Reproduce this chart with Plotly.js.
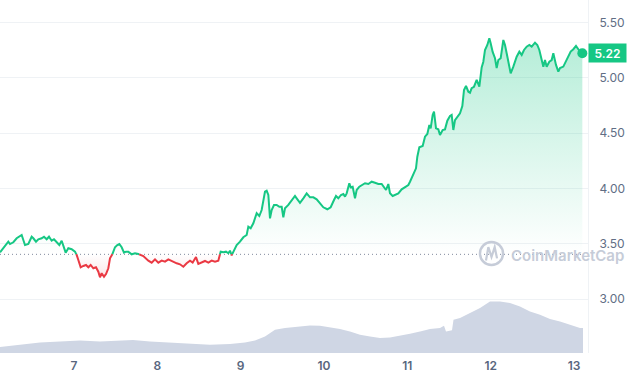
<!DOCTYPE html>
<html>
<head>
<meta charset="utf-8">
<script src="https://cdn.plot.ly/plotly-3.0.1.min.js"></script>
<style>html,body{margin:0;padding:0;background:#fff;}#chart{width:630px;height:380px;}</style>
</head>
<body>
<div id="chart"></div>
<script>
// ---- data (day of month, price USD) ----
const days = [6.112,6.152,6.192,6.212,6.232,6.272,6.312,6.352,6.372,6.392,6.412,6.452,6.492,6.512,6.544,6.572,6.612,6.640,6.672,6.700,6.732,6.760,6.792,6.824,6.852,6.872,6.900,6.932,6.972,7.012,7.032,7.052,7.080,7.112,7.144,7.172,7.200,7.232,7.264,7.292,7.312,7.332,7.360,7.384,7.412,7.432,7.452,7.472,7.492,7.520,7.544,7.572,7.600,7.624,7.652,7.692,7.732,7.772,7.832,7.892,7.932,7.972,8.012,8.052,8.092,8.132,8.184,8.232,8.272,8.312,8.352,8.392,8.424,8.464,8.492,8.532,8.572,8.612,8.652,8.692,8.732,8.760,8.792,8.824,8.852,8.872,8.892,8.920,8.952,8.992,9.032,9.072,9.092,9.120,9.152,9.192,9.224,9.252,9.272,9.292,9.312,9.332,9.352,9.372,9.400,9.432,9.464,9.492,9.512,9.532,9.572,9.612,9.652,9.672,9.712,9.752,9.792,9.832,9.872,9.912,9.952,9.992,10.040,10.080,10.120,10.144,10.172,10.204,10.232,10.252,10.272,10.304,10.320,10.344,10.372,10.392,10.424,10.452,10.492,10.532,10.572,10.612,10.652,10.692,10.720,10.744,10.772,10.792,10.824,10.852,10.892,10.932,10.972,11.012,11.032,11.072,11.104,11.120,11.144,11.184,11.212,11.240,11.264,11.280,11.304,11.320,11.344,11.372,11.392,11.424,11.452,11.480,11.512,11.532,11.552,11.572,11.600,11.632,11.660,11.680,11.704,11.732,11.752,11.772,11.800,11.832,11.864,11.892,11.912,11.932,11.960,11.984,12.000,12.024,12.052,12.072,12.092,12.120,12.152,12.172,12.192,12.212,12.240,12.272,12.312,12.344,12.372,12.400,12.432,12.464,12.492,12.532,12.560,12.584,12.612,12.632,12.652,12.672,12.704,12.732,12.752,12.784,12.812,12.832,12.872,12.904,12.932,12.960,12.992,13.024,13.052,13.080,13.100];
const prices = [3.422,3.459,3.497,3.518,3.497,3.513,3.549,3.570,3.579,3.533,3.488,3.497,3.563,3.549,3.518,3.540,3.549,3.563,3.540,3.563,3.527,3.540,3.509,3.488,3.527,3.473,3.419,3.459,3.450,3.428,3.398,3.353,3.287,3.299,3.308,3.287,3.308,3.278,3.287,3.247,3.197,3.233,3.202,3.226,3.278,3.368,3.389,3.428,3.468,3.488,3.497,3.468,3.419,3.428,3.428,3.404,3.413,3.407,3.389,3.347,3.329,3.359,3.329,3.347,3.338,3.359,3.338,3.323,3.314,3.292,3.323,3.347,3.329,3.379,3.318,3.329,3.344,3.329,3.347,3.338,3.347,3.428,3.422,3.428,3.414,3.437,3.395,3.443,3.488,3.518,3.558,3.579,3.654,3.639,3.684,3.775,3.750,3.804,3.895,3.970,3.979,3.940,3.729,3.804,3.850,3.850,3.834,3.834,3.739,3.820,3.850,3.888,3.931,3.910,3.870,3.910,3.955,3.919,3.919,3.901,3.865,3.829,3.811,3.829,3.895,3.931,3.910,3.940,3.949,3.925,3.955,4.046,4.010,4.015,3.910,3.985,4.015,4.030,4.046,4.039,4.060,4.051,4.039,4.039,4.015,3.985,4.039,3.955,3.931,3.940,3.955,3.991,4.010,4.030,4.060,4.136,4.181,4.286,4.371,4.383,4.467,4.491,4.572,4.542,4.663,4.692,4.542,4.533,4.482,4.527,4.533,4.611,4.654,4.663,4.527,4.617,4.642,4.678,4.744,4.888,4.925,4.873,4.864,4.904,4.918,4.979,4.918,5.093,5.144,5.250,5.295,5.355,5.310,5.232,5.175,5.087,5.159,5.175,5.340,5.295,5.220,5.144,5.039,5.099,5.189,5.234,5.205,5.250,5.280,5.295,5.280,5.316,5.295,5.250,5.159,5.099,5.159,5.099,5.144,5.159,5.220,5.115,5.055,5.086,5.100,5.145,5.190,5.236,5.257,5.287,5.257,5.227,5.220];
const openPrice = 3.404;

// volume (day, relative volume)
const volDays = [6.112,6.352,6.592,6.832,7.072,7.312,7.552,7.708,7.912,8.152,8.392,8.632,8.872,9.052,9.172,9.292,9.412,9.532,9.712,9.832,9.952,10.072,10.192,10.312,10.432,10.552,10.672,10.792,10.912,11.032,11.152,11.272,11.392,11.440,11.464,11.536,11.554,11.632,11.752,11.872,11.992,12.112,12.232,12.352,12.472,12.592,12.712,12.832,12.952,13.072,13.108];
const volumes = [6.0,8.3,10.6,11.6,12.6,11.6,12.6,13.0,11.6,10.6,9.0,8.3,9.0,10.6,12.6,16.6,23.3,25.0,26.6,27.6,27.3,26.0,24.0,21.6,18.3,16.6,15.0,15.6,17.3,19.3,21.6,24.0,25.0,27.3,21.6,22.8,33.3,35.0,40.0,45.0,51.6,51.6,50.0,46.6,41.6,38.3,34.0,31.6,28.3,25.0,25.0];

const xTicks = [7,8,9,10,11,12,13];
const yTicks = [3.00,3.50,4.00,4.50,5.00,5.50];

// ---- build colored segments ----
const GREEN = '#16c784', RED = '#ea3943';
const gX=[],gY=[],rX=[],rY=[],upX=[],upY=[],dnX=[],dnY=[];
for (let i=0;i<days.length;i++){
  const v=prices[i], above = v>=openPrice;
  if (above){ gX.push(days[i]); gY.push(v);} else { rX.push(days[i]); rY.push(v);}
  upX.push(days[i]); upY.push(Math.max(v,openPrice));
  dnX.push(days[i]); dnY.push(Math.min(v,openPrice));
  if (i<days.length-1){
    const n=prices[i+1], nAbove = n>=openPrice;
    if (above!==nAbove){
      const t=(openPrice-v)/(n-v);
      const xc=days[i]+t*(days[i+1]-days[i]);
      upX.push(xc); upY.push(openPrice); dnX.push(xc); dnY.push(openPrice);
      if (above){ gX.push(xc); gY.push(openPrice); gX.push(null); gY.push(null); rX.push(xc); rY.push(openPrice);} 
      else { rX.push(xc); rY.push(openPrice); rX.push(null); rY.push(null); gX.push(xc); gY.push(openPrice);} 
    }
  }
}
const first=days[0], last=days[days.length-1], lastP=prices[prices.length-1];

const traces = [
  {x:volDays,y:volumes,yaxis:'y2',type:'scatter',mode:'lines',line:{width:0,color:'#cfd6e4'},fill:'tozeroy',fillcolor:'#cfd6e4',hoverinfo:'skip'},
  {x:[first,last],y:[openPrice,openPrice],mode:'lines',line:{width:0},hoverinfo:'skip'},
  {x:upX,y:upY,mode:'lines',line:{width:0},fill:'tonexty',
   fillgradient:{type:'vertical',start:openPrice,stop:5.36,colorscale:[[0,'rgba(22,199,132,0)'],[1,'rgba(22,199,132,0.32)']]},hoverinfo:'skip'},
  {x:[first,last],y:[openPrice,openPrice],mode:'lines',line:{width:0},hoverinfo:'skip'},
  {x:dnX,y:dnY,mode:'lines',line:{width:0},fill:'tonexty',
   fillgradient:{type:'vertical',start:3.19,stop:openPrice,colorscale:[[0,'rgba(234,57,67,0.14)'],[1,'rgba(234,57,67,0)']]},hoverinfo:'skip'},
  {x:gX,y:gY,mode:'lines',line:{color:GREEN,width:2},connectgaps:false},
  {x:rX,y:rY,mode:'lines',line:{color:RED,width:2},connectgaps:false},
  {x:[last],y:[lastP],mode:'markers',marker:{color:GREEN,size:10}}
];

const layout = {
  width:630,height:380,
  margin:{l:0,r:42,t:0,b:27},
  paper_bgcolor:'#ffffff',plot_bgcolor:'#ffffff',
  showlegend:false,hovermode:false,
  font:{family:'Inter, "Noto Sans", sans-serif',color:'#58667e',size:12},
  xaxis:{range:[6.112,13.168],tickvals:xTicks,ticktext:xTicks.map(String),showgrid:false,zeroline:false,
    showline:false,ticks:'',ticklabelstandoff:4,tickfont:{size:12,weight:600,color:'#58667e'}},
  yaxis:{side:'right',range:[2.5127,5.7014],tickvals:yTicks,ticktext:yTicks.map(v=>v.toFixed(2)),
    showgrid:true,gridcolor:'#eff2f5',gridwidth:1,zeroline:false,showline:true,linecolor:'#eff2f5',linewidth:1,
    ticks:'',ticklabelstandoff:8,tickfont:{size:12,color:'#616e85'}},
  yaxis2:{overlaying:'y',range:[0,353],visible:false,showgrid:false,zeroline:false},
  shapes:[
    {type:'line',xref:'x',yref:'y',x0:first,x1:last,y0:openPrice,y1:openPrice,layer:'below',
     line:{color:'#808a9d',width:1,dash:'1px,3px'}},
    {type:'circle',xref:'paper',yref:'paper',x0:0.8163,x1:0.8555,y0:0.2493,y1:0.3145,line:{color:'#c6ccd8',width:2.5}},
    {type:'path',xref:'paper',yref:'paper',
     path:'M 0.8265 0.2620 L 0.8305 0.3000 L 0.8359 0.2720 L 0.8413 0.3000 L 0.8453 0.2680',
     line:{color:'#c6ccd8',width:2.2}}
  ],
  annotations:[
    {xref:'paper',yref:'y',x:1,y:lastP,xanchor:'left',yanchor:'middle',text:lastP.toFixed(2),showarrow:false,
     bgcolor:GREEN,font:{color:'#ffffff',size:12,weight:600},width:35,height:16,borderpad:1},
    {xref:'paper',yref:'paper',x:0.8656,y:0.2776,xanchor:'left',yanchor:'middle',text:'CoinMarketCap',showarrow:false,
     font:{size:15,weight:600,color:'#c6ccd8'}}
  ]
};
Plotly.newPlot('chart',traces,layout,{displayModeBar:false,staticPlot:true});
</script>
</body>
</html>
